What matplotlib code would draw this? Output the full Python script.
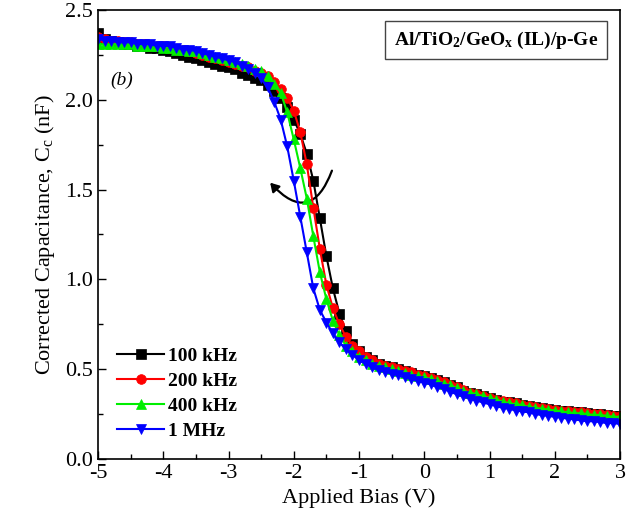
import numpy as np
import matplotlib
matplotlib.use("Agg")
import matplotlib.pyplot as plt
from matplotlib.patches import FancyArrowPatch

# Applied bias grid (V)
bias = np.linspace(-5.0, 3.0, 81)

c_100k = [2.37, 2.34, 2.33, 2.32, 2.31, 2.31, 2.30, 2.30, 2.29, 2.29,
          2.28, 2.27, 2.26, 2.25, 2.24, 2.23, 2.22, 2.21, 2.20, 2.19,
          2.18, 2.17, 2.15, 2.14, 2.12, 2.11, 2.08, 2.05, 2.01, 1.96,
          1.89, 1.81, 1.70, 1.55, 1.34, 1.13, 0.95, 0.81, 0.71, 0.64,
          0.60, 0.57, 0.55, 0.53, 0.52, 0.51, 0.50, 0.49, 0.48, 0.47,
          0.46, 0.45, 0.44, 0.43, 0.41, 0.40, 0.38, 0.37, 0.36, 0.35,
          0.34, 0.33, 0.32, 0.315, 0.31, 0.30, 0.295, 0.29, 0.285, 0.28,
          0.275, 0.27, 0.265, 0.26, 0.26, 0.255, 0.25, 0.25, 0.245, 0.24,
          0.24]

c_200k = [2.35, 2.34, 2.33, 2.33, 2.32, 2.32, 2.31, 2.31, 2.30, 2.30,
          2.30, 2.29, 2.28, 2.28, 2.27, 2.26, 2.25, 2.24, 2.23, 2.22,
          2.21, 2.20, 2.19, 2.18, 2.16, 2.15, 2.13, 2.10, 2.06, 2.01,
          1.94, 1.82, 1.64, 1.40, 1.17, 0.97, 0.84, 0.75, 0.68, 0.63,
          0.60, 0.57, 0.55, 0.53, 0.52, 0.51, 0.50, 0.49, 0.485, 0.47,
          0.46, 0.45, 0.44, 0.43, 0.41, 0.40, 0.385, 0.37, 0.36, 0.35,
          0.34, 0.33, 0.325, 0.315, 0.31, 0.30, 0.295, 0.29, 0.285, 0.28,
          0.275, 0.27, 0.265, 0.26, 0.26, 0.255, 0.25, 0.25, 0.245, 0.24,
          0.24]

c_400k = [2.31, 2.31, 2.31, 2.31, 2.31, 2.31, 2.30, 2.30, 2.30, 2.30,
          2.29, 2.29, 2.28, 2.28, 2.27, 2.27, 2.26, 2.25, 2.24, 2.23,
          2.22, 2.21, 2.20, 2.19, 2.17, 2.16, 2.13, 2.09, 2.04, 1.93,
          1.78, 1.62, 1.45, 1.24, 1.04, 0.89, 0.77, 0.69, 0.63, 0.60,
          0.57, 0.55, 0.53, 0.52, 0.51, 0.50, 0.49, 0.48, 0.47, 0.46,
          0.455, 0.445, 0.435, 0.42, 0.41, 0.395, 0.38, 0.37, 0.36, 0.35,
          0.34, 0.33, 0.32, 0.31, 0.305, 0.30, 0.29, 0.285, 0.28, 0.275,
          0.27, 0.265, 0.26, 0.255, 0.255, 0.25, 0.245, 0.245, 0.24, 0.235,
          0.235]

c_1M = [2.34, 2.33, 2.33, 2.32, 2.32, 2.32, 2.31, 2.31, 2.31, 2.30,
        2.30, 2.30, 2.29, 2.28, 2.28, 2.27, 2.26, 2.25, 2.24, 2.23,
        2.22, 2.21, 2.19, 2.17, 2.15, 2.12, 2.07, 1.99, 1.89, 1.74,
        1.55, 1.35, 1.15, 0.95, 0.83, 0.76, 0.70, 0.65, 0.61, 0.58,
        0.55, 0.53, 0.51, 0.495, 0.485, 0.475, 0.465, 0.455, 0.445, 0.435,
        0.425, 0.415, 0.40, 0.39, 0.375, 0.36, 0.35, 0.335, 0.325, 0.315,
        0.305, 0.295, 0.285, 0.28, 0.27, 0.265, 0.26, 0.25, 0.245, 0.24,
        0.235, 0.23, 0.225, 0.22, 0.215, 0.21, 0.21, 0.205, 0.20, 0.20,
        0.195]

labels = ["100 kHz", "200 kHz", "400 kHz", "1 MHz"]
colors = ["#000000", "#FF0000", "#00EE00", "#0000FF"]
markers = ["s", "o", "^", "v"]
series = [c_100k, c_200k, c_400k, c_1M]

plt.rcParams['font.family'] = ['Liberation Serif', 'DejaVu Serif']
plt.rcParams['mathtext.fontset'] = 'custom'
plt.rcParams['mathtext.rm'] = 'Liberation Serif'
plt.rcParams['mathtext.it'] = 'Liberation Serif:italic'
plt.rcParams['mathtext.bf'] = 'Liberation Serif:bold'

fig = plt.figure(figsize=(6.37, 5.28), dpi=100)
ax = fig.add_axes([98/637, 1-459/528, (620-98)/637, (459-10)/528])

for y, lab, col, mk in zip(series, labels, colors, markers):
    ax.plot(bias, y, color=col, marker=mk, markersize=7, linewidth=1.5,
            label=lab, markeredgewidth=0.5, markeredgecolor=col)

ax.set_xlim(-5, 3)
ax.set_ylim(0, 2.5)
ax.set_xticks(np.arange(-5, 3.1, 1))
ax.set_xticks(np.arange(-5, 3.1, 0.5), minor=True)
ax.set_yticks(np.arange(0, 2.51, 0.5))
ax.set_yticks(np.arange(0, 2.51, 0.25), minor=True)
ax.set_xticklabels([f"{v:d}" for v in range(-5, 4)])
ax.set_yticklabels([f"{v:.1f}" for v in np.arange(0, 2.51, 0.5)])
ax.tick_params(axis='both', which='both', direction='in', labelsize=16,
               top=False, right=False)
ax.tick_params(which='major', length=6, width=1)
ax.tick_params(which='minor', length=3.5, width=1)
for s in ax.spines.values():
    s.set_linewidth(1.2)

ax.set_xlabel("Applied Bias (V)", fontsize=16, labelpad=4)
ax.set_ylabel("Corrected Capacitance, C$_\\mathrm{c}$ (nF)", fontsize=16, labelpad=6)

ax.text(-4.63, 2.11, "(b)", fontsize=14, style='italic', ha='center', va='center')

ax.text(0.763, 0.933, "Al/TiO$_\\mathbf{2}$/GeO$_\\mathbf{x}$ (IL)/p-Ge",
        transform=ax.transAxes, fontsize=14, fontweight='bold',
        ha='center', va='center',
        bbox=dict(boxstyle='square,pad=0.45', facecolor='white',
                  edgecolor='#444444', linewidth=1))

arr = FancyArrowPatch((-1.40, 1.62), (-2.39, 1.55),
                      connectionstyle="arc3,rad=-0.85",
                      arrowstyle='-|>,head_length=5,head_width=3',
                      color='black', linewidth=1.6)
ax.add_patch(arr)

leg = ax.legend(loc='lower left', bbox_to_anchor=(0.0, 0.0), frameon=False,
                prop={'weight': 'bold', 'size': 14}, handlelength=2.4,
                labelspacing=0.38, handletextpad=0.2, borderaxespad=0.6)

fig.savefig("out.png", dpi=100)
